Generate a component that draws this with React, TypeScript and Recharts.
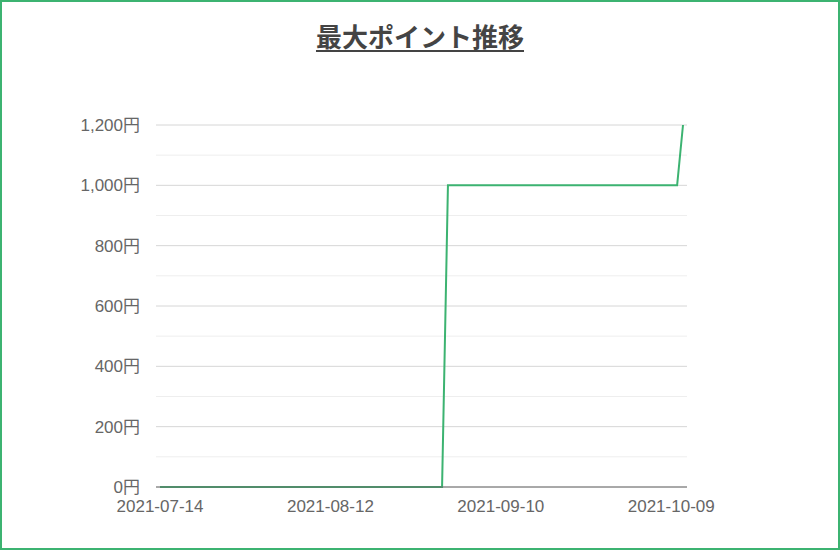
import { LineChart, Line, XAxis, YAxis, CartesianGrid } from 'recharts';

// change points of the max-point series (daily data, flat between these)
const pointDates = ['2021-07-14', '2021-08-31', '2021-09-01', '2021-10-10', '2021-10-11'];
const maxPoints = [0, 0, 1000, 1000, 1200];

const xTickDates = ['2021-07-14', '2021-08-12', '2021-09-10', '2021-10-09'];
const yTicks = [0, 200, 400, 600, 800, 1000, 1200];
const yMinorTicks = [100, 300, 500, 700, 900, 1100];
const Y_MAX = 1200;

const DAY = 86400000;
const start = Date.parse(pointDates[0]);
const toDay = (d: string) => (Date.parse(d) - start) / DAY;
const lastDay = toDay(pointDates[pointDates.length - 1]);

const data = pointDates.map((d, i) => ({ day: toDay(d), value: maxPoints[i] }));

function formatDate(v: number) {
  return new Date(start + v * DAY).toISOString().slice(0, 10);
}

function formatYen(v: number) {
  return `${v.toLocaleString('en-US')}円`;
}

const GREEN = '#3cb371';
const tickStyle = {
  fontSize: 17,
  fill: '#666',
  fontFamily: "'Liberation Sans', Arial, 'Noto Sans CJK JP', sans-serif",
};

// pixel rows of the lighter half-step grid lines
function minorRows({ yAxis, offset }: any) {
  if (yAxis && typeof yAxis.scale === 'function') {
    return yMinorTicks.map((t) => yAxis.scale(t));
  }
  return yMinorTicks.map((t) => offset.top + offset.height * (1 - t / Y_MAX));
}

export default function App() {
  return (
    <div
      style={{
        position: 'absolute',
        left: 0,
        top: 0,
        width: 840,
        height: 550,
        background: '#fff',
        boxShadow: `inset 0 0 0 2px ${GREEN}`,
      }}
    >
      <div
        style={{
          position: 'absolute',
          left: 0,
          top: 20,
          width: 840,
          textAlign: 'center',
          fontFamily: "'Noto Sans CJK JP', sans-serif",
          fontWeight: 'bold',
          fontSize: 26,
          lineHeight: '32px',
          color: '#444',
          textDecoration: 'underline',
          textDecorationThickness: 2,
          textUnderlineOffset: 3,
        }}
      >
        最大ポイント推移
      </div>
      <div style={{ position: 'absolute', left: 0, top: 0 }}>
        <LineChart
          width={840}
          height={550}
          data={data}
          margin={{ top: 125, right: 153, left: 0, bottom: 0 }}
        >
          <CartesianGrid
            vertical={false}
            stroke="#eeeeee"
            horizontalCoordinatesGenerator={minorRows}
          />
          <CartesianGrid vertical={false} stroke="#d6d6d6" />
          <XAxis
            dataKey="day"
            type="number"
            domain={[0, lastDay]}
            ticks={xTickDates.map(toDay)}
            tickFormatter={formatDate}
            tick={tickStyle}
            tickLine={false}
            tickSize={0}
            tickMargin={13}
            stroke="#666"
            height={63}
            padding={{ left: 4, right: 4 }}
            interval={0}
          />
          <YAxis
            domain={[0, Y_MAX]}
            ticks={yTicks}
            tickFormatter={formatYen}
            tick={tickStyle}
            tickLine={false}
            axisLine={false}
            tickSize={0}
            tickMargin={16}
            width={156}
            interval={0}
          />
          <Line
            type="linear"
            dataKey="value"
            stroke={GREEN}
            strokeWidth={2}
            dot={false}
            isAnimationActive={false}
          />
        </LineChart>
      </div>
    </div>
  );
}
